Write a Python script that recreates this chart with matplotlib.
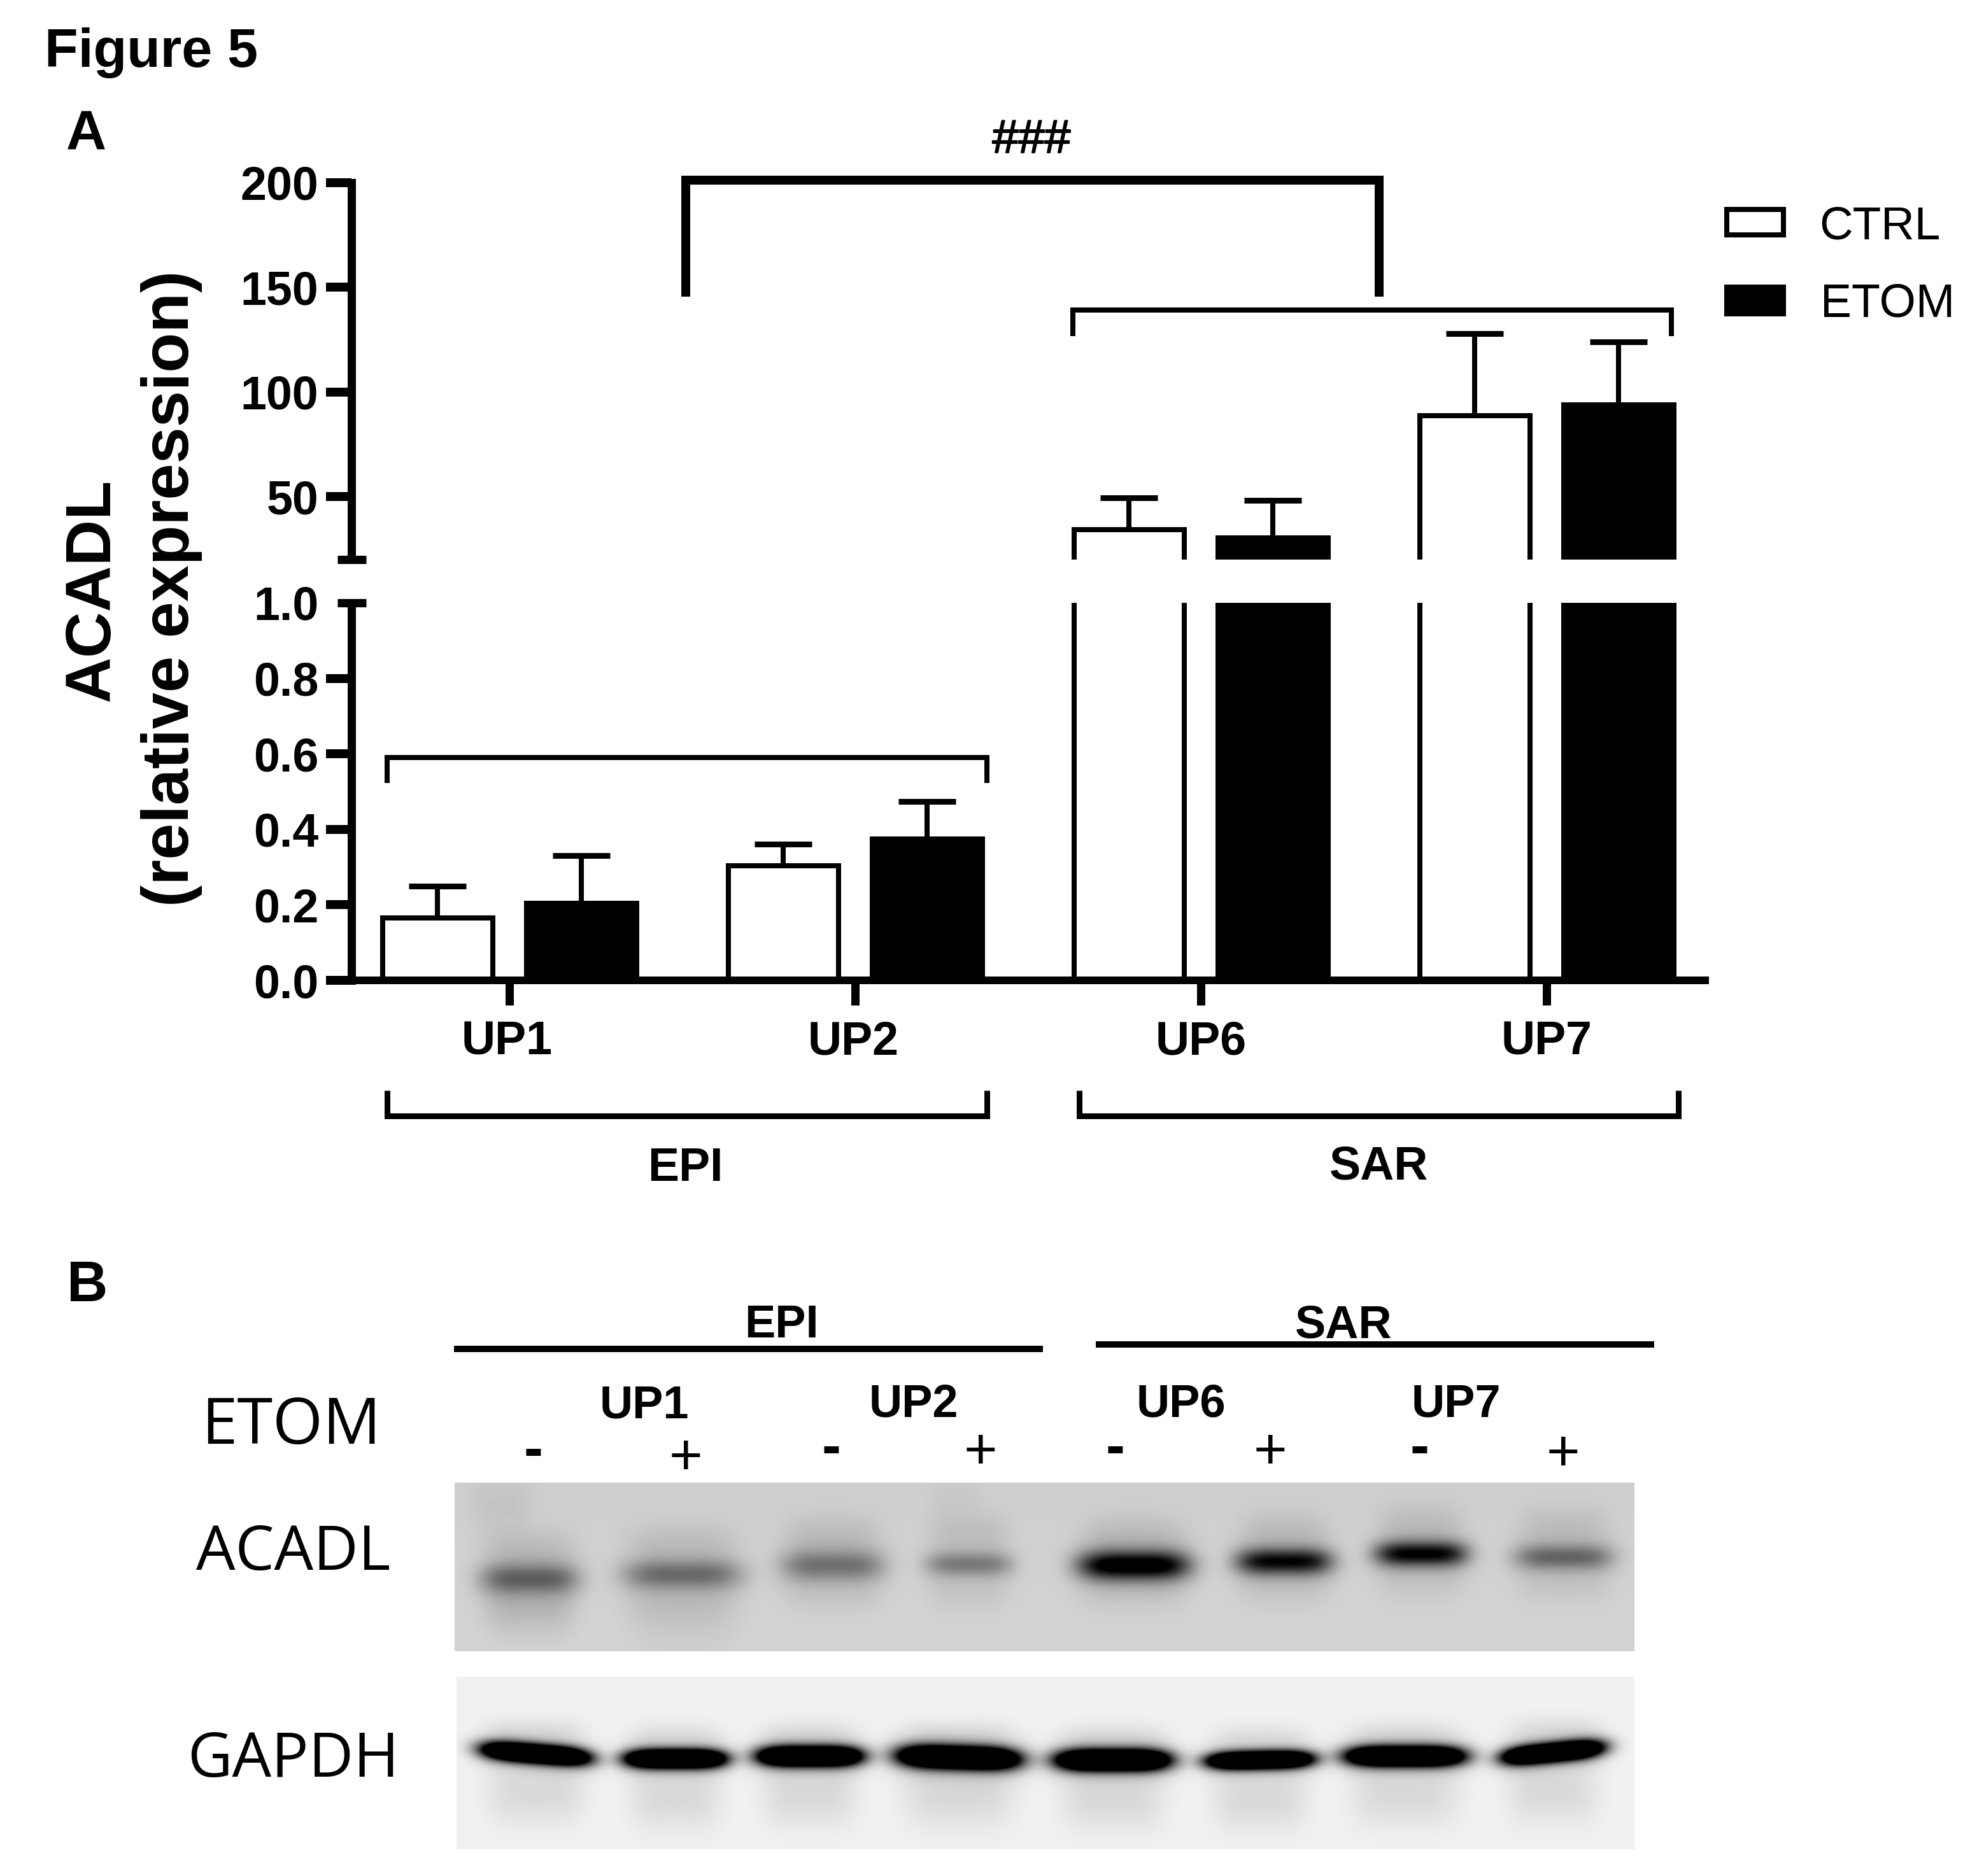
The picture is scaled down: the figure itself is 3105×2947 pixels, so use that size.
import numpy as np
import matplotlib
matplotlib.use("Agg")
import matplotlib.pyplot as plt
import matplotlib.patheffects as pe

W, H = 3105, 2947
DPI = 100
plt.rcParams['font.family'] = ['Liberation Sans', 'DejaVu Sans']

# ---- data ----
groups = ['UP1', 'UP2', 'UP6', 'UP7']
ctrl_mean = [0.165, 0.303, 34.2, 88.8]
ctrl_top = [0.25, 0.361, 49.4, 127.9]
etom_mean = [0.204, 0.375, 30.2, 94.0]
etom_top = [0.33, 0.474, 48.3, 124.0]
upper_ticks = [50, 100, 150, 200]
lower_ticks = [0.0, 0.2, 0.4, 0.6, 0.8, 1.0]

# ---- blot bands (centre x, centre y, half width, half height, darkness, tilt) ----
acadl_x = [832, 1072, 1308, 1522, 1781, 2017, 2232, 2456]
acadl_y = [2480, 2473, 2459, 2457, 2459, 2453, 2441, 2446]
acadl_w = [77, 93, 81, 68, 87, 75, 72, 77]
acadl_h = [24, 23, 24, 19, 22, 20, 19, 20]
acadl_d = [92, 82, 78, 70, 200, 170, 175, 88]
# faint vertical lane smears (x, half width, y from, y to, darkness)
smear_x = [788, 832, 1072, 1500]
smear_w = [48, 70, 85, 40]
smear_y0 = [2329, 2500, 2500, 2329]
smear_y1 = [2400, 2570, 2590, 2380]
smear_d = [11, 15, 11, 6]
gapdh_x = [842, 1061, 1272, 1506, 1748, 1979, 2207, 2439]
gapdh_y = [2755, 2763, 2759, 2761, 2765, 2765, 2759, 2753]
gapdh_w = [85, 79, 82, 96, 90, 83, 93, 79]
gapdh_h = [14, 14, 15, 17, 16, 13, 15, 14]
gapdh_t = [0.08, 0.0, 0.0, 0.03, 0.0, -0.02, 0.0, -0.10]

fig = plt.figure(figsize=(W / DPI, H / DPI), dpi=DPI, facecolor='white')
px = 72 / DPI


def axes_at(x0, y0, x1, y1, **kw):
    """Axes whose box spans the given picture pixels (y measured downward)."""
    return fig.add_axes([x0 / W, 1 - y1 / H, (x1 - x0) / W, (y1 - y0) / H], **kw)


# ---- broken-axis bar chart ----
X_LEFT, X_RIGHT = 551.5, 2684
X0, UNIT = 800.0, 543.0
xlim = ((X_LEFT - X0) / UNIT, (X_RIGHT - X0) / UNIT)
ax_u = axes_at(X_LEFT, 287, X_RIGHT, 879)
ax_l = axes_at(X_LEFT, 947, X_RIGHT, 1540)
pos = np.arange(len(groups), dtype=float)
BW, OFF = 173 / UNIT, 113 / UNIT

for ax, lo, hi in ((ax_u, 20, 200), (ax_l, 0, 1)):
    ax.set_xlim(*xlim)
    ax.set_ylim(lo, hi)
    ax.patch.set_alpha(0)
    ax.yaxis.remove_overlapping_locs = False
    for s in ax.spines.values():
        s.set_visible(False)
    ax.spines['left'].set_visible(True)
    ax.spines['left'].set_linewidth(13 * px)
    for means, tops, dx, col in ((ctrl_mean, ctrl_top, -OFF, 'white'),
                                 (etom_mean, etom_top, OFF, 'black')):
        m = np.array(means)
        t = np.array(tops)
        ax.bar(pos + dx, m, width=BW, bottom=0, facecolor=col, edgecolor='black',
               linewidth=8 * px, zorder=2)
        sel = (m >= lo) & (m <= hi)
        eb = ax.errorbar((pos + dx)[sel], m[sel], yerr=[np.zeros(sel.sum()), (t - m)[sel]],
                         fmt='none', ecolor='black', elinewidth=8 * px,
                         capsize=45 * px, capthick=9 * px, zorder=1.5)
        eb[1][0].set_visible(False)

ax_u.set_xticks([])
ax_u.set_yticks(upper_ticks)
ax_u.set_yticks([20], minor=True)
ax_u.tick_params(axis='y', which='major', length=40 * px, width=14 * px, pad=11 * px)
ax_u.tick_params(axis='y', which='minor', direction='inout', length=45 * px, width=13 * px)

ax_l.spines['bottom'].set_visible(True)
ax_l.spines['bottom'].set_linewidth(12 * px)
ax_l.spines['bottom'].set_capstyle('butt')
ax_l.set_xticks(pos)
ax_l.set_xticklabels([])
ax_l.tick_params(axis='x', length=39 * px, width=13 * px)
ax_l.set_yticks(lower_ticks)
ax_l.set_yticks([1.0], minor=True)
ax_l.tick_params(axis='y', which='major', length=40 * px, width=14 * px, pad=11 * px)
ax_l.tick_params(axis='y', which='minor', direction='inout', length=45 * px, width=13 * px)
ax_l.yaxis.get_major_ticks()[-1].tick1line.set_visible(False)
ax_l.set_yticklabels([f'{v:.1f}' for v in lower_ticks])
for ax in (ax_u, ax_l):
    for lab in ax.get_yticklabels():
        lab.set_fontsize(53)
        lab.set_fontweight('bold')


# ---- blots ----
def blot(x0, y0, x1, y1, bg):
    xx, yy = np.meshgrid(np.arange(x0, x1) + 0.5, np.arange(y0, y1) + 0.5)
    return xx, yy, bg


def band(xx, yy, cx, cy, hw, hh, amp, tilt=0.0):
    dx = (xx - cx) / hw
    dy = (yy - cy - tilt * (xx - cx)) / hh
    return amp * np.exp(-dx ** 4 - dy ** 2)


xx, yy, bg = blot(714, 2329, 2567, 2594, 206.0)
dark = np.zeros_like(xx)
for cx, cy, hw, hh, d in zip(acadl_x, acadl_y, acadl_w, acadl_h, acadl_d):
    dark += band(xx, yy, cx, cy, hw, hh, d)
    dark += band(xx, yy, cx, cy, hw * 1.05, hh * 1.7, d * 0.2)
    dark += band(xx, yy, cx, cy - 48, hw * 0.9, 32, 18)
    dark += band(xx, yy, cx, cy + 40, hw * 0.95, 34, 12)
for cx, hw, y0, y1, d in zip(smear_x, smear_w, smear_y0, smear_y1, smear_d):
    dark += band(xx, yy, cx, (y0 + y1) / 2, hw, (y1 - y0) / 1.6, d)
lighter = 6 * (yy - 2329) / 265
img_a = np.clip(bg + lighter - dark, 0, 255)

xx, yy, bg = blot(717, 2634, 2567, 2905, 241.0)
dark = np.zeros_like(xx)
for cx, cy, hw, hh, t in zip(gapdh_x, gapdh_y, gapdh_w, gapdh_h, gapdh_t):
    dark += band(xx, yy, cx, cy, hw, hh, 520, t)
    dark += band(xx, yy, cx, cy, hw * 1.05, hh * 1.9, 60, t)
    dark += band(xx, yy, cx, cy - 36, hw * 0.9, 22, 16)
    dark += band(xx, yy, cx, cy + 62, hw * 0.9, 48, 24)
img_g = np.clip(bg - dark, 0, 255)

for img, box in ((img_a, (714, 2329, 2567, 2594)), (img_g, (717, 2634, 2567, 2905))):
    a = axes_at(*box)
    a.imshow(img, cmap='gray', vmin=0, vmax=255, aspect='auto', interpolation='bilinear')
    a.axis('off')

# ---- overlay in picture pixels for annotation ----
ov = fig.add_axes([0, 0, 1, 1], zorder=10)
ov.set_xlim(0, W)
ov.set_ylim(H, 0)
ov.axis('off')
ov.patch.set_alpha(0)


def poly(xs, ys, lw):
    ov.plot(xs, ys, color='black', lw=lw * px, solid_joinstyle='miter', solid_capstyle='butt')


def label(x, y, s, size, bold=True, cap=0.70, family=None, ha='center'):
    """Centre a capital-height text line on picture pixel (x, y)."""
    off = cap * size / px / 2
    kw = {'family': family} if family else {}
    return ov.text(x, y + off, s, fontsize=size, fontweight='bold' if bold else 'normal',
                   ha=ha, va='baseline', **kw)


# significance and group brackets
poly([1077, 1077, 2166, 2166], [466, 283, 283, 466], 14)
poly([1685, 1685, 2625, 2625], [528, 487, 487, 528], 8)
poly([608, 608, 1550, 1550], [1230, 1190, 1190, 1230], 8)
poly([608, 608, 1550, 1550], [1713, 1753, 1753, 1713], 9)
poly([1695, 1695, 2636, 2636], [1713, 1753, 1753, 1713], 9)
hash_text = label(1620, 214, '###', 53, bold=False)
hash_text.set_path_effects([pe.withStroke(linewidth=2 * px, foreground='black')])

for x, g in zip([796, 1340, 1886, 2429], groups):
    label(x, 1631, g, 53)
label(1076, 1829, 'EPI', 53)
label(2166, 1828, 'SAR', 53)

label(70, 75, 'Figure 5', 62, ha='left')
label(135, 204, 'A', 63)
label(137, 2013, 'B', 64)

ov.text(146, 927, 'ACADL', fontsize=72, fontweight='bold', rotation=90,
        ha='center', va='center')
ov.text(270, 924, '(relative expression)', fontsize=74, fontweight='bold', rotation=90,
        ha='center', va='center')

# legend
ov.add_patch(plt.Rectangle((2712, 329), 89, 40, facecolor='white', edgecolor='black', lw=8 * px))
ov.add_patch(plt.Rectangle((2708, 447), 97, 50, facecolor='black', edgecolor='none'))
label(2857, 350, 'CTRL', 52.5, bold=False, ha='left')
label(2859, 472, 'ETOM', 53, bold=False, ha='left')

# panel B annotation
poly([713, 1638], [2119, 2119], 10)
poly([1721, 2598], [2112, 2112], 10)
label(1227, 2076, 'EPI', 52)
label(2110, 2076, 'SAR', 52)
for x, y, g in zip([1012, 1435, 1855, 2287], [2202, 2200, 2200, 2200], groups):
    label(x, y, g, 52)
signs_x = [838, 1077, 1305, 1540, 1752, 1995, 2230, 2455]
signs_y = [2281, 2286, 2277, 2277, 2277, 2277, 2277, 2280]
for i, (x, y) in enumerate(zip(signs_x, signs_y)):
    if i % 2:
        ov.text(x, y + 0.33 * 90, '+', fontsize=65, ha='center', va='baseline')
    else:
        ov.text(x, y + 0.27 * 90, '-', fontsize=65, ha='center', va='baseline', fontweight='bold')
label(457, 2232, 'ETOM', 73, bold=False, family='Open Sans', cap=0.714)
label(461, 2431, 'ACADL', 70, bold=False, family='Open Sans', cap=0.714)
label(461, 2756, 'GAPDH', 70, bold=False, family='Open Sans', cap=0.714)

fig.savefig('out.png', dpi=DPI, facecolor='white')
